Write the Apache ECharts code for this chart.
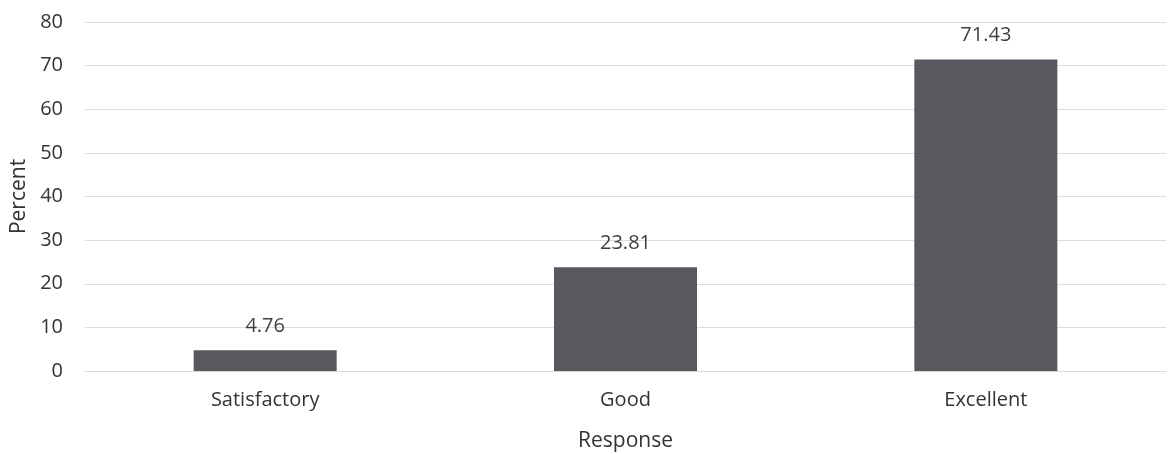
<!DOCTYPE html>
<html><head><meta charset="utf-8">
<script src="https://cdn.jsdelivr.net/npm/echarts@6/dist/echarts.min.js"></script>
<style>html,body{margin:0;padding:0;background:#fff}#c{width:1168px;height:454px}</style>
</head><body><div id="c"></div>
<script>
const categories = ['Satisfactory', 'Good', 'Excellent'];
const percentValues = [4.76, 23.81, 71.43];
const yTicks = [0, 10, 20, 30, 40, 50, 60, 70, 80];

const chart = echarts.init(document.getElementById('c'));
const font = '"Open Sans", "Liberation Sans", sans-serif';
chart.setOption({
  animation: false,
  grid: {left: 85, right: 2, top: 22, bottom: 83, outerBoundsMode: 'none', containLabel: false},
  xAxis: {
    type: 'category', data: categories,
    name: 'Response', nameLocation: 'middle', nameGap: 60,
    nameTextStyle: {fontSize: 21, color: '#333333', fontFamily: font},
    axisLine: {show: true, lineStyle: {color: '#d9d9d9'}},
    axisTick: {show: false},
    axisLabel: {fontSize: 20, color: '#333333', margin: 19, fontFamily: font}
  },
  yAxis: {
    type: 'value', min: yTicks[0], max: yTicks[yTicks.length - 1], interval: 10,
    name: 'Percent', nameLocation: 'middle', nameGap: 54, nameRotate: 90,
    nameTextStyle: {fontSize: 21, color: '#333333', fontFamily: font},
    axisLine: {show: false}, axisTick: {show: false},
    axisLabel: {fontSize: 20, color: '#333333', margin: 22, fontFamily: font},
    splitLine: {lineStyle: {color: '#dcdcdc', width: 1}}
  },
  series: [{
    type: 'bar', data: percentValues, barWidth: 143,
    itemStyle: {color: '#58585e'},
    label: {show: true, position: 'top', distance: 14, fontSize: 20, color: '#404040', fontFamily: font,
      formatter: p => p.value.toFixed(2)}
  }]
});
</script></body></html>
